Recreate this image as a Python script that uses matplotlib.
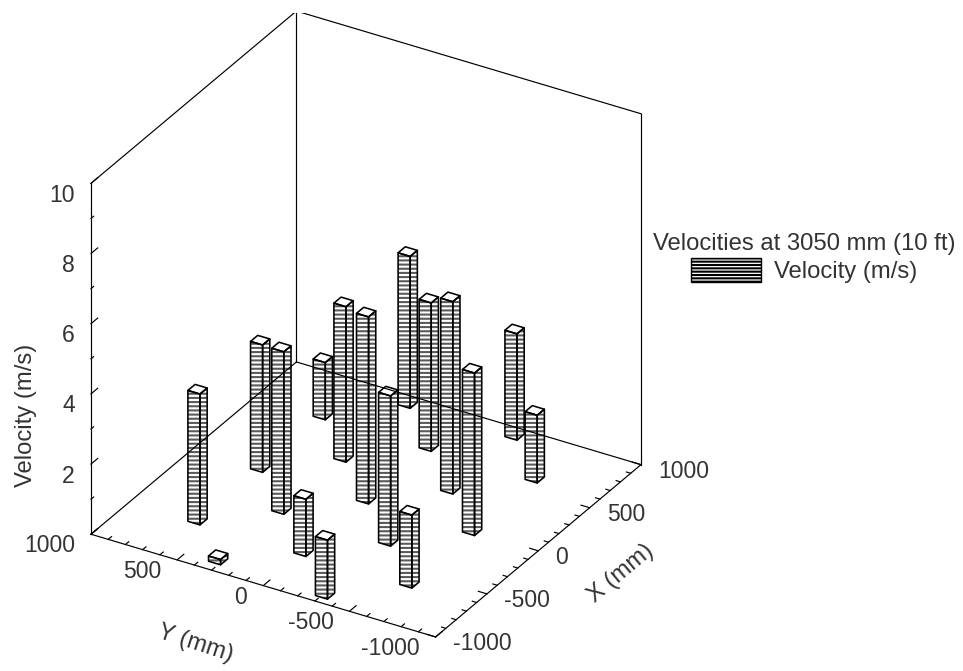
import matplotlib
matplotlib.use("Agg")
import matplotlib.pyplot as plt
from matplotlib.patches import Patch
from mpl_toolkits.mplot3d import proj3d
from mpl_toolkits.mplot3d.art3d import Poly3DCollection

# ---- data ----
x_mm = [-607, 3, 613,
        -896, -302, 303, 928,
        -607, 3, 613,
        -917, -302, 303, 928,
        -607, 3, 613]
y_mm = [616, 616, 616,
        324, 311, 311, 311,
        1, 1, 1,
        -309, -309, -309, -309,
        -614, -614, -614]
velocity = [3.73, 3.63, 1.63,
            0.15, 4.63, 4.43, 4.33,
            1.63, 5.33, 4.23,
            1.68, 4.28, 5.48, 3.03,
            2.08, 4.63, 1.93]
xy_ticks = [-1000, -500, 0, 500, 1000]
xy_minor = list(range(-1000, 1001, 100))
z_ticks = [2, 4, 6, 8, 10]
z_minor = list(range(0, 11))
legend_title = "Velocities at 3050 mm (10 ft)"
legend_label = "Velocity (m/s)"

plt.rcParams["font.family"] = ["Liberation Sans", "DejaVu Sans"]
plt.rcParams["hatch.linewidth"] = 1.5
W, H = 963, 671
FS = 16.5
FS_L = 17.2
TXT = "#333333"
LW = 0.85
LW_BAR = 1.15
STRIPE = "#5a5a5a"
CLEAR = (1, 1, 1, 0)

fig = plt.figure(figsize=(W / 100, H / 100), dpi=100, facecolor="white")
S = 640
ax = fig.add_axes([0, 0, S / W, S / H], projection="3d", proj_type="ortho",
                  computed_zorder=False)
ax.view_init(elev=30, azim=210.8)
ax.set_xlim(-1000, 1000, view_margin=0)
ax.set_ylim(-1000, 1000, view_margin=0)
ax.set_zlim(0, 10, view_margin=0)
ax.set_box_aspect((1, 1, 1.01), zoom=1)
ax.set_axis_off()


def to_px(x, y, z):
    px, py, _ = proj3d.proj_transform(x, y, z, ax.get_proj())
    return ax.transData.transform((px, py))


# fit the cube to the frame of the reference
fig.canvas.draw()
span = to_px(1000, -1000, 0)[0] - to_px(-1000, 1000, 0)[0]
ax.set_box_aspect((1, 1, 1.01), zoom=550 / span)
fig.canvas.draw()
c = to_px(0, 0, 5)
ax.set_position([(366 - c[0]) / W, (H - 324 - c[1]) / H, S / W, S / H])
fig.canvas.draw()


def label(x, y, z, s, **kwargs):
    """Text placed at a 3D position, kept as ordinary 2D text."""
    px, py = to_px(x, y, z)
    ax.text2D(px / W, py / H, s, transform=fig.transFigure, color=TXT,
              va="center", zorder=5, **kwargs)


# bars
half = 35
for bx, by, v in zip(x_mm, y_mm, velocity):
    x0, x1, y0, y1 = bx - half, bx + half, by - half, by + half
    sides = [[(x0, y0, 0), (x1, y0, 0), (x1, y0, v), (x0, y0, v)],
             [(x0, y0, 0), (x0, y1, 0), (x0, y1, v), (x0, y0, v)]]
    top = [[(x0, y0, v), (x1, y0, v), (x1, y1, v), (x0, y1, v)]]
    stripes = Poly3DCollection(sides, facecolor=CLEAR, edgecolor=STRIPE,
                               linewidth=0, hatch="----", zorder=2)
    stripes._hatch_color = matplotlib.colors.to_rgba(STRIPE)
    ax.add_collection3d(stripes)
    outline = Poly3DCollection(sides + top, facecolor=CLEAR, edgecolor="black",
                               linewidth=LW_BAR, zorder=3)
    ax.add_collection3d(outline)

# frame
lo, hi, zt = -1000, 1000, 10
edges = [((lo, lo, 0), (hi, lo, 0)), ((hi, lo, 0), (hi, hi, 0)),
         ((hi, hi, 0), (lo, hi, 0)), ((lo, hi, 0), (lo, lo, 0)),
         ((lo, hi, 0), (lo, hi, zt)), ((hi, hi, 0), (hi, hi, zt)),
         ((hi, lo, 0), (hi, lo, zt)),
         ((lo, hi, zt), (hi, hi, zt)), ((hi, hi, zt), (hi, lo, zt))]
for a, b in edges:
    ax.plot(*zip(a, b), color="black", lw=LW, zorder=4)

# ticks
for t in xy_minor:
    major = t % 500 == 0
    ax.plot([lo, lo + (65 if major else 32)], [t, t], [0, 0],
            color="black", lw=LW, zorder=4)
    ax.plot([t, t], [lo, lo + (50 if major else 25)], [0, 0],
            color="black", lw=LW, zorder=4)
for t in z_minor:
    ax.plot([lo, lo + (65 if t % 2 == 0 else 25)], [hi, hi], [t, t],
            color="black", lw=LW, zorder=4)

# tick labels
for t in xy_ticks:
    label(-1156, t, 0.05, str(t), ha="right", fontsize=FS)
    label(t, -1100, -0.05, str(t), ha="left", fontsize=FS)
for t in z_ticks:
    label(-1156, hi, t + 0.04, str(t), ha="right", fontsize=FS)

# axis titles
ttl = dict(fontsize=FS_L, ha="center", rotation_mode="anchor")
label(-1632, hi, 4.94, "Velocity (m/s)", rotation=90, **ttl)
label(-1660, 0, -0.03, "Y (mm)", rotation=-18, **ttl)
label(20, -1470, 0, "X (mm)", rotation=40, **ttl)

# legend
handle = Patch(facecolor="white", edgecolor="black", hatch="-----", linewidth=1.0)
fig.legend(handles=[handle], labels=[legend_label], title=legend_title,
           fontsize=FS_L, title_fontsize=FS_L, frameon=False, loc="center",
           bbox_to_anchor=(804 / W, (H - 258) / H),
           handlelength=2.93, handleheight=1.15, handletextpad=0.55,
           labelspacing=0.13, borderpad=0, borderaxespad=0,
           labelcolor=TXT).get_title().set_color(TXT)

fig.savefig("out.png", dpi=100, facecolor="white")
